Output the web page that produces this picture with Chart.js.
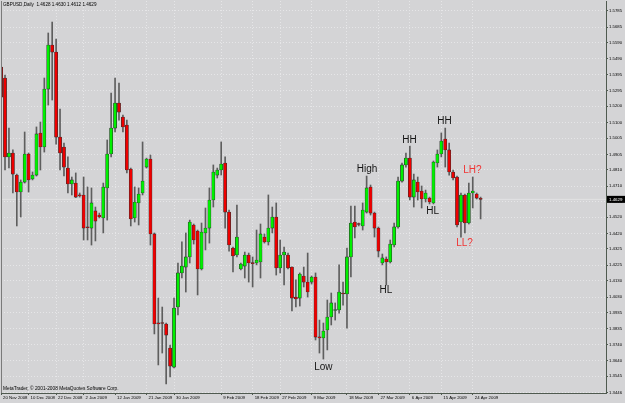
<!DOCTYPE html>
<html><head><meta charset="utf-8">
<script src="https://cdn.jsdelivr.net/npm/chart.js@4.4.1/dist/chart.umd.min.js"></script>
<style>html,body{margin:0;padding:0;background:#d4d4d6;overflow:hidden}</style>
</head><body>
<canvas id="c" width="625" height="403" style="display:block;width:625px;height:403px"></canvas>
<script>
// ---- data ----
const openP = [1.5440,1.5373,1.4889,1.4913,1.4778,1.4674,1.4735,1.4907,1.4754,1.4778,
1.5036,1.4950,1.5305,1.5575,1.5532,1.5011,1.4950,1.4821,1.4723,1.4729,
1.4656,1.4656,1.4460,1.4453,1.4558,1.4533,1.4515,1.4699,1.4907,1.5066,
1.5220,1.5134,1.5085,1.4815,1.4515,1.4607,1.4668,1.4827,1.4876,1.4417,
1.3871,1.3871,1.3865,1.3718,1.3601,1.3969,1.4178,1.4214,1.4276,1.4472,
1.4435,1.4202,1.4423,1.4453,1.4625,1.4778,1.4809,1.4852,1.4551,1.4331,
1.4288,1.4202,1.4220,1.4288,1.4239,1.4239,1.4245,1.4398,1.4368,1.4453,
1.4521,1.4208,1.4288,1.4288,1.4214,1.4030,1.4024,1.4159,1.4122,1.4122,
1.4153,1.3785,1.3779,1.3828,1.3908,1.3948,1.3951,1.4055,1.4049,1.4276,
1.4490,1.4478,1.4466,1.4551,1.4705,1.4545,1.4453,1.4239,1.4263,1.4245,
1.4349,1.4460,1.4741,1.4840,1.4882,1.4643,1.4735,1.4680,1.4631,1.4637,
1.4607,1.4852,1.4907,1.4999,1.4932,1.4797,1.4766,1.4490,1.4656,1.4484,
1.4668,1.4662,1.4634];
const highP = [1.5453,1.5391,1.5066,1.4932,1.4784,1.4748,1.5042,1.4913,1.4797,1.5073,
1.5103,1.5373,1.5649,1.5716,1.5612,1.5183,1.4974,1.4889,1.4766,1.4791,
1.4668,1.4766,1.4705,1.4699,1.4582,1.4545,1.4729,1.4993,1.5281,1.5373,
1.5342,1.5146,1.5115,1.4821,1.4705,1.4699,1.4981,1.4882,1.4901,1.4423,
1.4024,1.3969,1.3871,1.3736,1.4024,1.4239,1.4368,1.4423,1.4502,1.4478,
1.4441,1.4484,1.4576,1.4699,1.4840,1.4821,1.4981,1.4889,1.4564,1.4337,
1.4594,1.4239,1.4306,1.4300,1.4276,1.4441,1.4478,1.4417,1.4656,1.4582,
1.4607,1.4380,1.4337,1.4300,1.4216,1.4135,1.4178,1.4214,1.4300,1.4159,
1.4178,1.3889,1.3871,1.4012,1.4055,1.3994,1.4227,1.4122,1.4331,1.4588,
1.4588,1.4484,1.4607,1.4772,1.4717,1.4551,1.4460,1.4294,1.4276,1.4380,
1.4484,1.4766,1.4852,1.4913,1.4956,1.4784,1.4766,1.4711,1.4686,1.4643,
1.4864,1.4932,1.5036,1.5066,1.4974,1.4809,1.4772,1.4668,1.4662,1.4729,
1.4766,1.4668,1.4643];
const lowP = [1.5244,1.4809,1.4821,1.4668,1.4466,1.4521,1.4729,1.4674,1.4748,1.4772,
1.4809,1.4919,1.5207,1.5238,1.4968,1.4809,1.4772,1.4668,1.4656,1.4640,
1.4643,1.4380,1.4380,1.4349,1.4374,1.4515,1.4423,1.4502,1.4889,1.5042,
1.5115,1.5042,1.4791,1.4466,1.4490,1.4472,1.4656,1.4821,1.4349,1.3804,
1.3614,1.3687,1.3497,1.3540,1.3595,1.3920,1.4147,1.4061,1.4239,1.4355,
1.4043,1.4196,1.4319,1.4361,1.4582,1.4760,1.4778,1.4453,1.4312,1.4184,
1.4276,1.4196,1.4147,1.4122,1.4092,1.4227,1.4147,1.4361,1.4349,1.4423,
1.4165,1.4178,1.4104,1.4202,1.3945,1.3969,1.3975,1.4092,1.4030,1.4110,
1.3767,1.3687,1.3650,1.3706,1.3859,1.3889,1.3932,1.3981,1.3840,1.4153,
1.4392,1.4466,1.4441,1.4545,1.4533,1.4398,1.4276,1.4227,1.4104,1.4239,
1.4337,1.4453,1.4735,1.4827,1.4625,1.4582,1.4625,1.4576,1.4613,1.4601,
1.4601,1.4827,1.4889,1.4827,1.4778,1.4748,1.4460,1.4398,1.4423,1.4478,
1.4576,1.4631,1.4509];
const closeP = [1.5256,1.4889,1.4913,1.4784,1.4674,1.4735,1.4907,1.4748,1.4778,1.5030,
1.4950,1.5305,1.5575,1.5532,1.5011,1.4913,1.4827,1.4723,1.4748,1.4643,
1.4650,1.4453,1.4455,1.4607,1.4496,1.4521,1.4705,1.4907,1.5066,1.5220,
1.5164,1.5073,1.4809,1.4509,1.4613,1.4662,1.4741,1.4876,1.4417,1.3865,
1.3866,1.3868,1.3797,1.3607,1.3963,1.4178,1.4220,1.4276,1.4490,1.4380,
1.4202,1.4429,1.4453,1.4625,1.4797,1.4809,1.4846,1.4551,1.4349,1.4282,
1.4398,1.4233,1.4288,1.4239,1.4235,1.4257,1.4417,1.4368,1.4453,1.4521,
1.4208,1.4288,1.4306,1.4208,1.4024,1.4018,1.4171,1.4122,1.4061,1.4153,
1.3785,1.3780,1.3822,1.3908,1.3994,1.3953,1.4061,1.4049,1.4276,1.4484,
1.4460,1.4475,1.4564,1.4699,1.4545,1.4453,1.4312,1.4270,1.4245,1.4355,
1.4460,1.4741,1.4840,1.4882,1.4643,1.4748,1.4674,1.4631,1.4668,1.4613,
1.4858,1.4907,1.4987,1.4932,1.4797,1.4760,1.4472,1.4656,1.4484,1.4668,
1.4680,1.4637,1.4629];

const xTickIndex  = [0, 7, 14, 21, 29, 37, 44, 56, 64, 71, 79, 88, 96, 104, 112, 120];
const xTickLabels = ['20 Nov 2008','10 Dec 2008','22 Dec 2008','2 Jan 2009','12 Jan 2009','21 Jan 2009','30 Jan 2009','9 Feb 2009','18 Feb 2009','27 Feb 2009','9 Mar 2009','18 Mar 2009','27 Mar 2009','6 Apr 2009','15 Apr 2009','24 Apr 2009'];
const yTickValues = [1.5785,1.5685,1.5590,1.5490,1.5395,1.5295,1.5200,1.5100,1.5005,1.4905,1.4810,1.4710,1.4615,1.4520,1.4420,1.4325,1.4225,1.4130,1.4030,1.3935,1.3835,1.3740,1.3640,1.3545,1.3446];

const annText  = ['High','HH','HH','HL','HL','Low','LH?','LL?'];
const annIndex = [93.1, 103.9, 112.8, 97.9, 109.8, 82.0, 119.9, 117.9];
const annPrice = [1.4815, 1.4993, 1.5106, 1.4070, 1.4555, 1.3598, 1.4807, 1.4361];

const titleText = 'GBPUSD,Daily  1.4628 1.4630 1.4612 1.4629';
const copyrightText = 'MetaTrader, \u00A9 2001-2008 MetaQuotes Software Corp.';

// ---- styles ----
const BG = '#d4d4d6', GRID = '#e6e6e8', AXIS = '#4f5a4f';
const UP = '#00f000', DOWN = '#ee0000', BODY_EDGE = '#2e2e2e', WICK = '#5e5e5e';
const FONT = "'Liberation Sans', Arial, sans-serif";
const annColors = {'LH?': '#f03434', 'LL?': '#f03434'};

const n = openP.length;
const ids = openP.map((_, i) => i);
const bodies = ids.map(i => ({x: i, y: [openP[i], closeP[i]]}));
const wicks  = ids.map(i => ({x: i, y: [lowP[i], highP[i]]}));
const bodyColors = ids.map(i => closeP[i] >= openP[i] ? UP : DOWN);
const lastClose = closeP[n - 1];

const X_MIN = -0.02, X_MAX = 153.9, Y_MIN = 1.3442, Y_MAX = 1.5845;

const decor = {
  id: 'decor',
  beforeDraw(chart) {
    const ctx = chart.ctx;
    ctx.save();
    ctx.fillStyle = BG;
    ctx.fillRect(0, 0, chart.width, chart.height);
    ctx.restore();
  },
  afterDatasetsDraw(chart) {
    const ctx = chart.ctx, xs = chart.scales.x, ys = chart.scales.y;
    ctx.save();
    ctx.font = '10px ' + FONT;
    ctx.textAlign = 'center';
    ctx.textBaseline = 'middle';
    annText.forEach((t, i) => {
      ctx.fillStyle = annColors[t] || '#141414';
      ctx.fillText(t, xs.getPixelForValue(annIndex[i]), ys.getPixelForValue(annPrice[i]));
    });
    ctx.restore();
  },
  afterDraw(chart) {
    const ctx = chart.ctx, ys = chart.scales.y, a = chart.chartArea;
    ctx.save();
    ctx.strokeStyle = '#7a7a7a'; ctx.lineWidth = 1;
    ctx.beginPath(); ctx.moveTo(a.left + 0.5, a.top); ctx.lineTo(a.left + 0.5, a.bottom); ctx.stroke();
    ctx.fillStyle = '#000';
    ctx.textBaseline = 'middle';
    ctx.textAlign = 'left';
    ctx.font = '4.6px ' + FONT;
    ctx.fillText(titleText, 3, 5);
    ctx.font = '4.8px ' + FONT;
    ctx.fillText(copyrightText, 3, 389);
    const y = ys.getPixelForValue(lastClose);
    ctx.fillStyle = '#000';
    ctx.fillRect(a.right + 1, y - 3.5, 18, 7);
    ctx.fillStyle = '#fff';
    ctx.font = '4.4px ' + FONT;
    ctx.fillText(lastClose.toFixed(4), a.right + 3, y + 0.3);
    ctx.restore();
  }
};

new Chart(document.getElementById('c'), {
  type: 'bar',
  data: {
    datasets: [
      { type: 'bar', label: 'body', data: bodies, order: 0, grouped: false,
        backgroundColor: bodyColors, borderColor: BODY_EDGE, borderWidth: 0.6,
        borderSkipped: false, barThickness: 3.2, minBarLength: 1 },
      { type: 'bar', label: 'wick', data: wicks, order: 1, grouped: false,
        backgroundColor: WICK, borderWidth: 0, barThickness: 1 },
      { type: 'line', label: 'bid', data: [{x: X_MIN, y: lastClose}, {x: X_MAX, y: lastClose}],
        order: 2, borderColor: '#e2e2e4', borderWidth: 1, pointRadius: 0 }
    ]
  },
  options: {
    responsive: false, animation: false, devicePixelRatio: 1,
    layout: { padding: { left: 1, top: 1, right: 0, bottom: 0 } },
    plugins: { legend: { display: false }, tooltip: { enabled: false }, title: { display: false } },
    scales: {
      x: {
        type: 'linear', min: X_MIN, max: X_MAX, offset: false,
        grid: { display: true, offset: false, color: GRID, lineWidth: 1, tickLength: 2, tickColor: AXIS, tickWidth: 1 },
        border: { display: true, color: AXIS, width: 1, dash: [1, 2] },
        ticks: { autoSkip: false, maxRotation: 0, minRotation: 0, align: 'start', labelOffset: 2, padding: 0,
                 color: '#000', font: { size: 4.3, family: FONT },
                 callback: (v) => { const k = xTickIndex.indexOf(v); return k >= 0 ? xTickLabels[k] : ''; } },
        afterBuildTicks: s => { s.ticks = xTickIndex.map(v => ({ value: v })); },
        afterFit: s => { s.height = 10; s.paddingLeft = 0; s.paddingRight = 0; }
      },
      y: {
        type: 'linear', position: 'right', min: Y_MIN, max: Y_MAX,
        grid: { display: true, color: GRID, lineWidth: 1, tickLength: 2, tickColor: AXIS, tickWidth: 1 },
        border: { display: true, color: AXIS, width: 1, dash: [1, 2] },
        ticks: { autoSkip: false, padding: 1, color: '#000', font: { size: 4.3, family: FONT },
                 callback: (v) => Number(v).toFixed(4) },
        afterBuildTicks: s => { s.ticks = yTickValues.map(v => ({ value: v })); },
        afterFit: s => { s.width = 19; s.paddingTop = 0; s.paddingBottom = 0; }
      }
    }
  },
  plugins: [decor]
});
</script>
</body></html>
